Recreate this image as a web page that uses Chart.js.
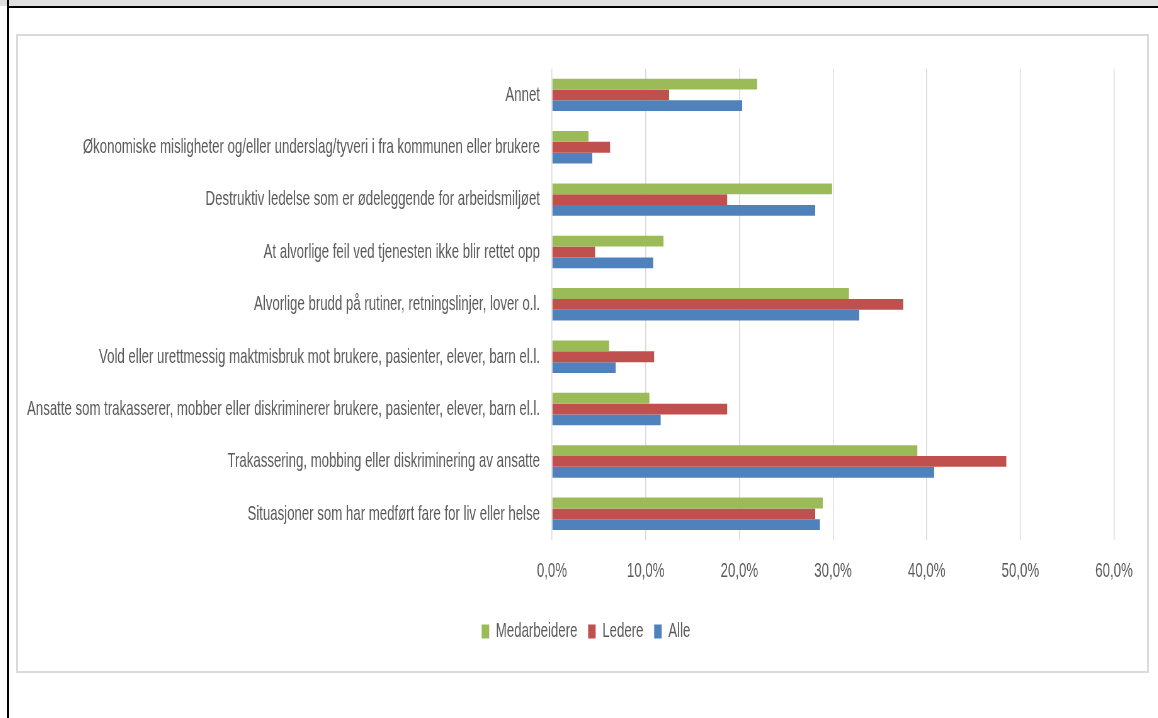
<!DOCTYPE html>
<html>
<head>
<meta charset="utf-8">
<script src="https://cdn.jsdelivr.net/npm/chart.js@4/dist/chart.umd.min.js"></script>
<style>
  html, body { margin: 0; padding: 0; background: #fff; }
  body { width: 1158px; height: 718px; position: relative; overflow: hidden; }
  #band { position: absolute; left: 0; top: 0; width: 1158px; height: 6px; background: #dfdfdf; }
  #topline { position: absolute; left: 7px; top: 6px; width: 1151px; height: 2px; background: #000; }
  #leftline { position: absolute; left: 7px; top: 0; width: 2px; height: 718px; background: #000; }
  #box { position: absolute; left: 16px; top: 34px; width: 1129px; height: 635px; border: 2px solid #dadada; }
  #chart { position: absolute; left: 18px; top: 36px; transform-origin: 0 0; }
</style>
</head>
<body>
<div id="band"></div>
<div id="topline"></div>
<div id="leftline"></div>
<div id="box"></div>
<canvas id="chart"></canvas>
<script>
const CATEGORIES = [
  'Annet',
  'Økonomiske misligheter og/eller underslag/tyveri i fra kommunen eller brukere',
  'Destruktiv ledelse som er ødeleggende for arbeidsmiljøet',
  'At alvorlige feil ved tjenesten ikke blir rettet opp',
  'Alvorlige brudd på rutiner, retningslinjer, lover o.l.',
  'Vold eller urettmessig maktmisbruk mot brukere, pasienter, elever, barn el.l.',
  'Ansatte som trakasserer, mobber eller diskriminerer brukere, pasienter, elever, barn el.l.',
  'Trakassering, mobbing eller diskriminering av ansatte',
  'Situasjoner som har medført fare for liv eller helse',
];
const MEDARBEIDERE = [21.9, 3.9, 29.9, 11.9, 31.7, 6.1, 10.4, 39.0, 28.9];
const LEDERE = [12.5, 6.2, 18.7, 4.6, 37.5, 10.9, 18.7, 48.5, 28.1];
const ALLE = [20.3, 4.3, 28.1, 10.8, 32.8, 6.8, 11.6, 40.8, 28.6];
const X_TICKS = [0, 10, 20, 30, 40, 50, 60];

const FONT = '"Liberation Sans", Arial, sans-serif';
const FONT_SIZE = 21;
const TEXT = '#595959';

// the text is drawn condensed: lay the chart out wide, then squeeze it
const probe = document.createElement('canvas').getContext('2d');
probe.font = FONT_SIZE + 'px ' + FONT;
const longest = Math.max(...CATEGORIES.map(c => probe.measureText(c).width));
const squeeze = 513 / longest;

const OUT_W = 1129;
const OUT_H = 635;
const canvas = document.getElementById('chart');
canvas.width = Math.round(OUT_W / squeeze);
canvas.height = OUT_H;
canvas.style.width = canvas.width + 'px';
canvas.style.height = OUT_H + 'px';
canvas.style.transform = 'scaleX(' + squeeze + ')';

const fmt = v => v.toFixed(1).replace('.', ',') + '%';

// nudge the legend a little to the right of the canvas centre
const legendShift = {
  id: 'legendShift',
  afterLayout(chart) {
    const d = 20 / squeeze;
    chart.legend.left += d;
    chart.legend.right += d;
  },
};

new Chart(canvas, {
  type: 'bar',
  data: {
    labels: CATEGORIES,
    datasets: [
      { label: 'Medarbeidere', data: MEDARBEIDERE, backgroundColor: '#9bbb59' },
      { label: 'Ledere', data: LEDERE, backgroundColor: '#c0504d' },
      { label: 'Alle', data: ALLE, backgroundColor: '#4f81bd' },
    ],
  },
  plugins: [legendShift],
  options: {
    indexAxis: 'y',
    responsive: false,
    animation: false,
    devicePixelRatio: 1,
    categoryPercentage: 0.62,
    barPercentage: 1,
    layout: { padding: { left: 0, top: 32.7, right: 33 / squeeze, bottom: 19 } },
    scales: {
      x: {
        min: 0,
        max: 60,
        afterBuildTicks: axis => { axis.ticks = X_TICKS.map(v => ({ value: v })); },
        afterFit: axis => { axis.height = 64; },
        grid: { color: '#d9d9d9', lineWidth: 1.5, drawTicks: false },
        border: { display: false },
        ticks: {
          padding: 19,
          color: TEXT,
          font: { family: FONT, size: FONT_SIZE },
          callback: v => fmt(v),
        },
      },
      y: {
        afterFit: axis => { axis.width = 534 / squeeze; },
        grid: { display: false },
        border: { display: false },
        ticks: {
          padding: 7 / squeeze,
          color: TEXT,
          autoSkip: false,
          font: { family: FONT, size: FONT_SIZE },
        },
      },
    },
    plugins: {
      legend: {
        position: 'bottom',
        labels: {
          boxWidth: 12,
          boxHeight: 14,
          padding: 17,
          color: TEXT,
          font: { family: FONT, size: FONT_SIZE },
        },
      },
      tooltip: { enabled: false },
    },
  },
});
</script>
</body>
</html>
